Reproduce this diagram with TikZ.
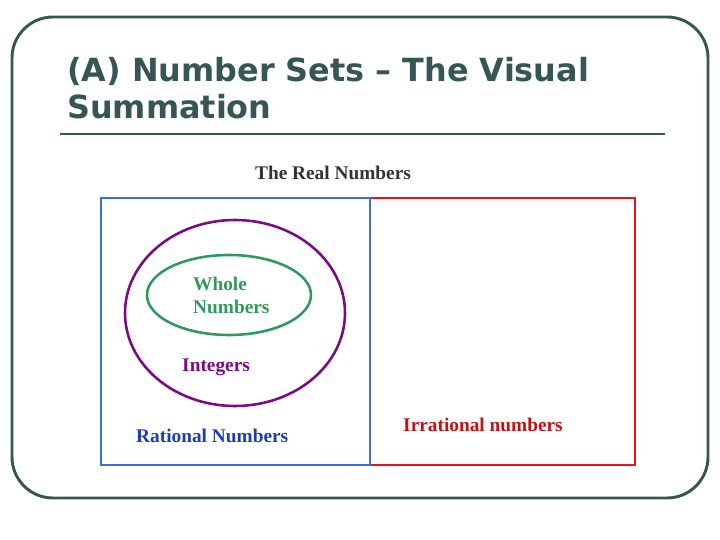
\documentclass[tikz,border=0pt]{standalone}
\usepackage{fontspec}
\newfontfamily\titlefont{DejaVu Sans}
\setmainfont{Liberation Serif}
\usetikzlibrary{positioning}
\definecolor{frame}{HTML}{365656}
\definecolor{realblue}{HTML}{3A6EE0}
\definecolor{irred}{HTML}{E8141A}
\definecolor{intpurple}{HTML}{7A0A86}
\definecolor{wholegreen}{HTML}{2E9A5E}
\definecolor{ratblue}{HTML}{1A3DB8}
\begin{document}
\begin{tikzpicture}[x=0.03cm,y=-0.03cm,
  lbl/.style={font=\fontsize{16.5}{19.5}\selectfont\bfseries, inner sep=0pt, anchor=west}]
\useasboundingbox (0,0) rectangle (720,540);

\draw[frame, line width=2.5pt, rounded corners=35] (12,17) rectangle (708,498);
\node[frame, anchor=north west, align=left, inner sep=0pt,
  font=\titlefont\fontsize{27.2}{31.5}\selectfont\bfseries] (title) at (67,57)
  {(A) Number Sets – The Visual\\Summation};
\draw[frame, line width=2.2pt] (60,134) -- (665,134);

\node[font=\fontsize{16.5}{18}\selectfont\bfseries, text=black!80] (real) at (333,173) {The Real Numbers};

\draw[irred, line width=2pt] (370,198) rectangle (635,465);
\draw[realblue, line width=2pt] (101,198) rectangle (370,465);

\draw[intpurple, line width=2.2pt] (235,313) ellipse [x radius=110, y radius=93];
\draw[wholegreen, line width=2.2pt] (229,295) ellipse [x radius=82, y radius=40];

\node[lbl, wholegreen, align=left] (whole) at (193,295) {Whole\\Numbers};
\node[lbl, intpurple] (int) at (182,367) {Integers};
\node[lbl, ratblue] (rat) at (136,436) {Rational Numbers};
\node[lbl, irred!85!black] (irr) at (403,425) {Irrational numbers};
\end{tikzpicture}
\end{document}
